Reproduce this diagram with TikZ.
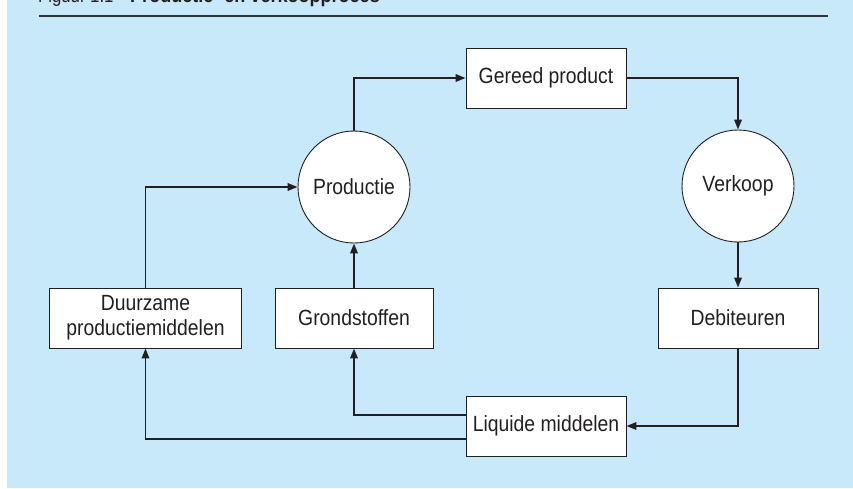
\documentclass[tikz,border=0pt]{standalone}
\usepackage{fontspec}
\setmainfont{Liberation Sans}[FakeStretch=0.88]
\usetikzlibrary{arrows.meta}
\definecolor{bgblue}{RGB}{199,233,249}
\definecolor{ink}{RGB}{35,31,32}
\definecolor{rulegray}{RGB}{50,52,56}
\begin{document}
\begin{tikzpicture}[x=1pt,y=-1pt,
  box/.style={draw=ink, line width=0.9pt, fill=white, minimum width=160pt,
    minimum height=60pt, inner sep=0pt, font=\fontsize{22}{25}\selectfont,
    text=ink, align=center},
  proc/.style={circle, draw=ink, line width=0.9pt, fill=white,
    minimum size=112pt, inner sep=0pt, font=\fontsize{22}{25}\selectfont, text=ink},
  flow/.style={draw=ink, line width=1.9pt, -{Triangle[length=10pt,width=7.5pt]}},
  titletext/.style={anchor=base west, inner sep=0pt, text=ink},
]
\useasboundingbox (0,0) rectangle (853,488);
\clip (0,0) rectangle (853,488);
\fill[bgblue] (7,0) rectangle (853,488);
\node[titletext, font=\fontsize{19}{22}\selectfont] (titlenum) at (38,2.2) {Figuur 1.1};
\node[titletext, font=\fontsize{20.5}{24}\selectfont\bfseries] (title) at (130,2.2) {Productie- en verkoopproces};
\draw[rulegray, line width=2.5pt] (39,16) -- (828,16);

\node[box] (gereed) at (546,78) {Gereed product};
\node[proc] (productie) at (354,187) {Productie};
\node[proc] (verkoop) at (738,186) {Verkoop};
\node[box] (debiteuren) at (738,318) {Debiteuren};
\node[box] (liquide) at (546,426) {Liquide middelen};
\node[box, minimum width=158pt] (grond) at (354,318) {Grondstoffen};
\node[box, minimum width=192pt] (duurzame) at (145.5,318) {Duurzame\\productiemiddelen};

\draw[flow] (productie.north) |- (gereed.west);
\draw[flow] (gereed.east) -| (verkoop.north);
\draw[flow] (verkoop.south) -- (debiteuren.north);
\draw[flow] (debiteuren.south) |- (liquide.east);
\draw[flow] ([yshift=11pt]liquide.west) -| (grond.south);
\draw[flow] ([yshift=-13pt]liquide.west) -| (duurzame.south);
\draw[flow] (duurzame.north) |- (productie.west);
\draw[flow] (grond.north) -- (productie.south);
\end{tikzpicture}
\end{document}
